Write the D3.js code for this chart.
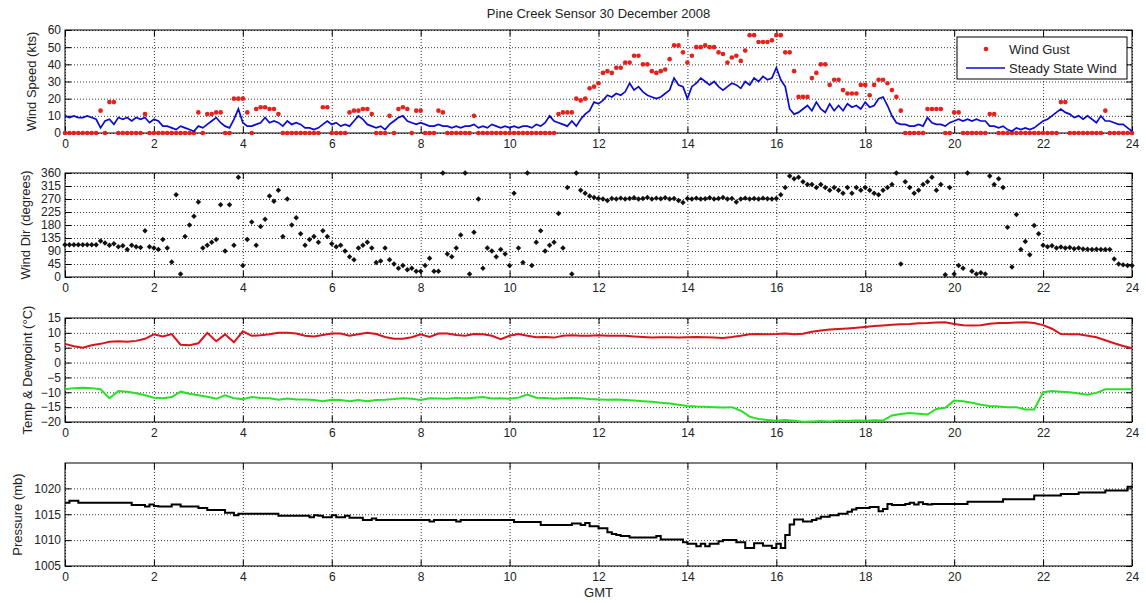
<!DOCTYPE html>
<html>
<head>
<meta charset="utf-8">
<script src="https://cdn.jsdelivr.net/npm/d3@7/dist/d3.min.js"></script>
<style>
  body { margin: 0; background: #ffffff; }
  text { font-family: "Liberation Sans", Arial, Helvetica, sans-serif; fill: #222222; }
</style>
</head>
<body>
<div class="chart"></div>
<script>
// ---- data ----
var hourTicks = [0, 2, 4, 6, 8, 10, 12, 14, 16, 18, 20, 22, 24];
var speedTicks = [0, 10, 20, 30, 40, 50, 60];
var dirTicks = [0, 45, 90, 135, 180, 225, 270, 315, 360];
var tempTicks = [-20, -15, -10, -5, 0, 5, 10, 15];
var pressTicks = [1005, 1010, 1015, 1020];

// samples every 0.1 h
var steadyWind = [
  10,9,10,9,9,10,9,8,3,7,
  8,5,9,8,9,7,9,8,9,6,
  8,7,4,4,3,2,4,3,2,1,
  4,3,5,7,9,6,4,3,8,14,
  6,4,4,5,6,9,6,7,6,4,
  7,5,6,5,3,3,2,3,5,7,
  5,6,4,5,4,7,10,8,5,4,
  3,4,2,5,7,9,10,7,6,5,
  6,5,4,4,5,4,4,3,4,3,
  4,4,5,3,4,3,5,4,3,4,
  3,4,3,4,4,3,5,4,6,10,
  7,6,5,4,7,4,8,11,13,18,
  17,19,22,21,23,22,24,29,25,27,
  24,22,21,20,21,23,25,32,28,27,
  20,27,29,32,30,28,30,27,25,27,
  29,28,26,30,28,32,30,33,31,32,
  38,31,27,14,11,12,14,16,13,18,
  14,12,17,13,16,13,17,15,16,14,
  18,15,16,20,21,16,10,6,5,5,
  4,4,5,4,9,6,5,5,4,6,
  7,8,7,8,7,8,7,7,4,4,
  3,4,2,1,3,2,3,2,3,5,
  7,8,10,12,14,12,11,9,10,8,
  10,8,6,10,7,7,6,5,5,3,
  1
];
var windGust = [
  0,0,0,0,0,0,0,0,13,0,
  18,18,0,0,0,0,0,0,11,0,
  0,0,0,0,0,0,0,0,0,0,
  12,0,11,11,12,12,0,0,20,20,
  20,12,0,14,15,15,14,14,11,0,
  0,0,0,0,0,0,0,0,15,15,
  0,0,0,0,12,13,13,14,14,11,
  0,0,0,10,0,14,15,14,0,13,
  13,0,0,0,13,12,0,0,0,0,
  0,0,10,0,0,0,0,0,0,0,
  0,0,0,0,0,0,0,0,0,0,
  0,11,12,12,12,20,19,20,26,27,
  29,35,36,35,38,38,41,41,45,45,
  40,40,36,35,36,37,43,51,51,47,
  41,45,50,50,51,50,50,47,46,41,
  44,45,42,48,57,57,53,53,53,54,
  57,57,47,47,36,21,21,21,32,35,
  40,40,28,31,31,25,23,23,23,28,
  28,22,28,31,31,29,25,21,13,0,
  0,0,0,0,14,14,14,14,0,0,
  12,12,0,0,0,0,0,0,11,11,
  0,0,0,0,0,0,0,0,0,0,
  0,0,0,0,18,18,0,0,0,0,
  0,0,0,0,13,0,0,0,0,0,
  0
];
var windDir = [
  112,112,112,112,112,112,112,112,125,118,
  110,115,105,108,95,110,105,102,160,105,
  100,95,130,100,52,285,10,140,180,210,
  260,100,110,120,130,250,90,250,110,345,
  40,130,190,110,175,200,280,262,300,140,
  270,180,205,150,110,130,140,120,160,140,
  115,105,110,90,70,60,100,110,120,100,
  50,55,100,60,45,30,40,25,30,20,
  20,40,65,20,20,360,80,70,100,145,
  360,10,155,270,30,100,90,70,95,80,
  40,290,100,50,360,40,120,160,90,110,
  120,220,100,310,10,360,300,290,280,275,
  272,270,265,272,270,273,270,272,274,270,
  272,275,270,273,271,274,270,272,265,258,
  272,270,273,270,271,274,270,272,275,270,
  272,260,270,273,270,272,270,273,271,270,
  272,285,310,350,340,345,330,320,320,310,
  320,310,300,310,300,290,310,290,310,300,
  310,300,290,285,300,310,320,360,45,330,
  310,290,300,320,330,345,300,320,8,310,
  10,40,30,360,20,10,15,10,350,320,
  340,310,172,35,216,95,123,77,178,150,
  110,105,108,100,104,100,102,98,100,97,
  96,95,96,95,95,95,62,45,42,40,
  40
];
var pressure = [
  1017.2,1017.6,1017.6,1017.2,1017.2,1017.2,1017.2,1017.2,1017.2,1017.2,
  1017.2,1017.2,1017.2,1017.2,1017.2,1016.8,1016.8,1016.8,1016.5,1016.9,
  1016.6,1016.5,1016.5,1016.5,1016.9,1016.9,1016.5,1016.5,1016.5,1016.5,
  1016.2,1016.2,1015.8,1015.8,1015.8,1015.8,1015.3,1015.3,1014.8,1015.1,
  1015.1,1015.1,1015.1,1015.1,1015.1,1015.1,1015.1,1015.1,1014.7,1014.7,
  1014.7,1014.7,1014.7,1014.7,1014.7,1014.4,1014.8,1014.7,1014.4,1014.4,
  1014.8,1014.4,1014.4,1014.7,1014.3,1014.3,1014.3,1013.9,1013.9,1014.2,
  1013.9,1013.9,1013.9,1013.9,1013.9,1013.9,1013.9,1013.9,1013.9,1013.9,
  1013.9,1013.9,1013.6,1013.9,1013.9,1013.9,1013.9,1013.9,1013.6,1013.9,
  1013.9,1013.9,1013.9,1013.9,1013.9,1013.9,1013.9,1013.9,1013.9,1013.9,
  1013.9,1013.5,1013.5,1013.5,1013.5,1013.5,1013.5,1012.9,1012.9,1012.9,
  1012.9,1012.9,1012.9,1012.9,1013.2,1013.2,1012.9,1013.3,1012.7,1012.7,
  1012.3,1012.3,1011.5,1011.2,1011.0,1010.8,1010.8,1010.5,1010.5,1010.5,
  1010.5,1010.5,1010.5,1010.8,1010.1,1010.1,1010.1,1010.1,1010.1,1009.6,
  1009.3,1009.3,1008.8,1009.3,1008.8,1009.3,1009.3,1009.8,1010.0,1010.0,
  1010.0,1009.6,1009.6,1008.5,1008.5,1009.4,1009.4,1008.9,1008.9,1008.5,
  1009.3,1008.5,1011.0,1013.0,1014.0,1014.0,1013.6,1013.6,1013.9,1014.2,
  1014.5,1014.5,1014.8,1014.8,1015.1,1015.1,1015.5,1015.9,1016.2,1016.2,
  1016.2,1016.4,1016.4,1015.6,1016.0,1017.0,1016.8,1016.8,1016.8,1017.0,
  1017.2,1016.9,1017.3,1017.0,1016.9,1017.0,1017.0,1017.0,1017.0,1017.0,
  1017.0,1017.0,1017.0,1017.4,1017.4,1017.4,1017.4,1017.4,1017.4,1017.4,
  1017.4,1017.9,1017.9,1017.9,1017.9,1017.9,1017.9,1017.9,1018.6,1018.6,
  1018.6,1018.6,1018.6,1018.6,1018.9,1018.9,1018.9,1018.9,1019.2,1019.2,
  1019.2,1019.2,1019.2,1019.2,1019.6,1019.6,1019.6,1019.6,1019.6,1020.3,
  1020.5
];

// samples every 0.2 h
var temperature = [
  6.3,5.5,5.0,5.8,6.3,7.0,7.2,7.0,7.3,8.0,
  9.5,8.8,9.6,6.0,5.8,6.5,10.0,7.2,9.5,6.8,
  10.5,9.0,9.2,9.5,10.0,10.0,9.8,9.0,8.8,9.3,
  9.8,9.8,9.0,9.5,10.0,9.6,8.6,8.0,8.0,8.5,
  9.5,8.6,9.8,9.8,9.3,9.0,9.6,9.5,9.0,7.9,
  9.0,9.6,9.0,8.5,8.6,8.4,9.0,9.2,9.0,9.0,
  9.2,9.0,9.0,9.0,8.8,8.6,8.4,8.5,8.5,8.4,
  8.5,8.6,8.5,8.4,8.3,8.6,9.0,9.5,9.6,9.5,
  9.6,9.8,9.5,9.7,10.4,10.8,11.1,11.3,11.5,11.7,
  12.0,12.3,12.5,12.7,12.9,13.0,13.2,13.3,13.5,13.6,
  13.0,12.6,12.5,12.6,13.1,13.3,13.3,13.5,13.6,13.3,
  12.6,11.4,9.6,9.5,9.5,9.0,8.5,7.5,6.5,5.6,
  4.8
];
var dewpoint = [
  -9.0,-8.6,-8.5,-8.6,-9.0,-12.0,-9.6,-9.8,-10.3,-11.0,
  -11.8,-12.0,-11.6,-9.8,-10.5,-11.0,-11.5,-12.2,-11.0,-12.0,
  -12.3,-11.6,-11.9,-12.0,-12.5,-12.1,-12.4,-12.4,-12.6,-13.0,
  -12.5,-12.6,-13.0,-12.6,-13.0,-12.6,-12.5,-12.3,-12.0,-12.2,
  -12.6,-12.0,-12.1,-12.2,-11.9,-12.1,-11.8,-11.6,-12.1,-12.0,
  -12.2,-11.8,-10.8,-11.8,-11.9,-12.2,-12.0,-11.9,-12.0,-12.3,
  -12.4,-12.5,-12.4,-12.6,-12.8,-13.0,-13.2,-13.5,-13.8,-14.2,
  -14.6,-14.8,-14.9,-15.0,-15.1,-15.0,-16.2,-18.2,-19.0,-19.3,
  -19.6,-19.3,-19.6,-19.9,-19.8,-19.7,-19.8,-19.6,-19.7,-19.5,
  -19.6,-19.4,-19.5,-17.8,-17.3,-17.0,-17.2,-17.5,-15.6,-15.2,
  -12.8,-13.0,-13.5,-14.2,-14.6,-14.8,-15.0,-15.0,-15.8,-15.8,
  -10.0,-9.6,-9.8,-10.0,-10.4,-10.8,-10.2,-9.0,-9.0,-9.0,
  -9.0
];

var hours10 = d3.range(steadyWind.length).map(function(i) { return i / 10; });
var hours5 = d3.range(temperature.length).map(function(i) { return i / 5; });

// ---- layout ----
var width = 1146, height = 603;
var plotLeft = 65, plotRight = 1132;

var svg = d3.select(".chart")
  .append("svg")
    .attr("width", width)
    .attr("height", height);

var x = d3.scaleLinear()
  .domain([0, 24])
  .range([plotLeft, plotRight]);

function makePanel(top, bottom, domain, ticks, label, labelX) {
  var y = d3.scaleLinear().domain(domain).range([bottom, top]);
  var g = svg.append("g");

  // dotted grid
  g.append("g")
    .attr("transform", "translate(0," + bottom + ")")
    .call(d3.axisBottom(x).tickValues(hourTicks).tickSize(-(bottom - top)).tickFormat(""))
    .call(function(a) { a.select(".domain").remove(); })
    .selectAll("line").attr("stroke", "#000").attr("stroke-dasharray", "1,2").attr("stroke-width", 0.8);
  g.append("g")
    .attr("transform", "translate(" + plotLeft + ",0)")
    .call(d3.axisLeft(y).tickValues(ticks).tickSize(-(plotRight - plotLeft)).tickFormat(""))
    .call(function(a) { a.select(".domain").remove(); })
    .selectAll("line").attr("stroke", "#000").attr("stroke-dasharray", "1,2").attr("stroke-width", 0.8);

  // ticks pointing inward on all four sides
  var xb = g.append("g").attr("class", "x axis")
    .attr("transform", "translate(0," + bottom + ")")
    .call(d3.axisBottom(x).tickValues(hourTicks).tickSizeInner(-6).tickSizeOuter(0).tickPadding(6));
  var xt = g.append("g")
    .attr("transform", "translate(0," + top + ")")
    .call(d3.axisTop(x).tickValues(hourTicks).tickSizeInner(-6).tickSizeOuter(0).tickFormat(""));
  var yl = g.append("g").attr("class", "y axis")
    .attr("transform", "translate(" + plotLeft + ",0)")
    .call(d3.axisLeft(y).tickValues(ticks).tickSizeInner(-6).tickSizeOuter(0).tickPadding(4)
      .tickFormat(d3.format("d")));
  var yr = g.append("g")
    .attr("transform", "translate(" + plotRight + ",0)")
    .call(d3.axisRight(y).tickValues(ticks).tickSizeInner(-6).tickSizeOuter(0).tickFormat(""));
  [xb, xt, yl, yr].forEach(function(a) {
    a.select(".domain").remove();
    a.selectAll("line").attr("stroke", "#000");
    a.selectAll("text").attr("font-size", "12px").attr("fill", "#222")
      .attr("font-family", "'Liberation Sans', Arial, sans-serif");
  });

  g.append("rect")
    .attr("x", plotLeft).attr("y", top)
    .attr("width", plotRight - plotLeft).attr("height", bottom - top)
    .attr("fill", "none").attr("stroke", "#000").attr("stroke-width", 1);

  g.append("text")
    .attr("transform", "translate(" + labelX + "," + ((top + bottom) / 2) + ") rotate(-90)")
    .attr("text-anchor", "middle")
    .attr("dy", "0.35em")
    .attr("font-size", "13px")
    .text(label);

  var plot = svg.append("g");
  return { y: y, plot: plot };
}

// title
svg.append("text")
  .attr("x", (plotLeft + plotRight) / 2)
  .attr("y", 18)
  .attr("text-anchor", "middle")
  .attr("font-size", "13px")
  .text("Pine Creek Sensor 30 December 2008");

// ---- panel 1: wind speed ----
var p1 = makePanel(30, 133, [0, 60], speedTicks, "Wind Speed (kts)", 31);
var dot = d3.symbol().type(d3.symbolCircle).size(17);
var diamond = d3.symbol().type(d3.symbolSquare).size(15);

p1.plot.selectAll(".gust")
  .data(windGust)
  .enter()
  .append("path")
    .attr("class", "gust")
    .attr("d", dot)
    .attr("transform", function(d, i) { return "translate(" + x(hours10[i]) + "," + p1.y(d) + ")"; })
    .attr("fill", "#e8201c");

p1.plot.append("path")
  .datum(steadyWind)
  .attr("fill", "none")
  .attr("stroke", "#0a0ad0")
  .attr("stroke-width", 1.7)
  .attr("d", d3.line()
    .x(function(d, i) { return x(hours10[i]); })
    .y(function(d) { return p1.y(d); }));

// legend
var legend = svg.append("g");
legend.append("rect")
  .attr("x", 957).attr("y", 37).attr("width", 170).attr("height", 42)
  .attr("fill", "#fff").attr("stroke", "#000").attr("stroke-width", 1);
legend.append("path")
  .attr("d", dot)
  .attr("transform", "translate(986,49)")
  .attr("fill", "#e8201c");
legend.append("line")
  .attr("x1", 966).attr("x2", 1005).attr("y1", 68).attr("y2", 68)
  .attr("stroke", "#0a0ad0").attr("stroke-width", 1.7);
legend.append("text").attr("x", 1009).attr("y", 49).attr("dy", "0.35em")
  .attr("font-size", "13px").text("Wind Gust");
legend.append("text").attr("x", 1009).attr("y", 68).attr("dy", "0.35em")
  .attr("font-size", "13px").text("Steady State Wind");

// ---- panel 2: wind direction ----
var p2 = makePanel(173, 277, [0, 360], dirTicks, "Wind Dir (degrees)", 25);
p2.plot.selectAll(".dir")
  .data(windDir)
  .enter()
  .append("path")
    .attr("class", "dir")
    .attr("d", diamond)
    .attr("transform", function(d, i) { return "translate(" + x(hours10[i]) + "," + p2.y(d) + ") rotate(45)"; })
    .attr("fill", "#111");

// ---- panel 3: temperature and dewpoint ----
var p3 = makePanel(318, 422, [-20, 15], tempTicks, "Temp & Dewpoint (\u00B0C)", 27);
var tLine = d3.line()
  .x(function(d, i) { return x(hours5[i]); })
  .y(function(d) { return p3.y(d); });
p3.plot.append("path")
  .datum(temperature)
  .attr("fill", "none").attr("stroke", "#d8141c").attr("stroke-width", 2)
  .attr("d", tLine);
p3.plot.append("path")
  .datum(dewpoint)
  .attr("fill", "none").attr("stroke", "#28e028").attr("stroke-width", 2)
  .attr("d", tLine);

// ---- panel 4: pressure ----
var p4 = makePanel(463, 566, [1005, 1024.9], pressTicks, "Pressure (mb)", 17);
p4.plot.append("path")
  .datum(pressure)
  .attr("fill", "none").attr("stroke", "#000").attr("stroke-width", 2)
  .attr("d", d3.line()
    .curve(d3.curveStepAfter)
    .x(function(d, i) { return x(hours10[i]); })
    .y(function(d) { return p4.y(d); }));

svg.append("text")
  .attr("x", (plotLeft + plotRight) / 2)
  .attr("y", 597)
  .attr("text-anchor", "middle")
  .attr("font-size", "13px")
  .text("GMT");
</script>
</body>
</html>
